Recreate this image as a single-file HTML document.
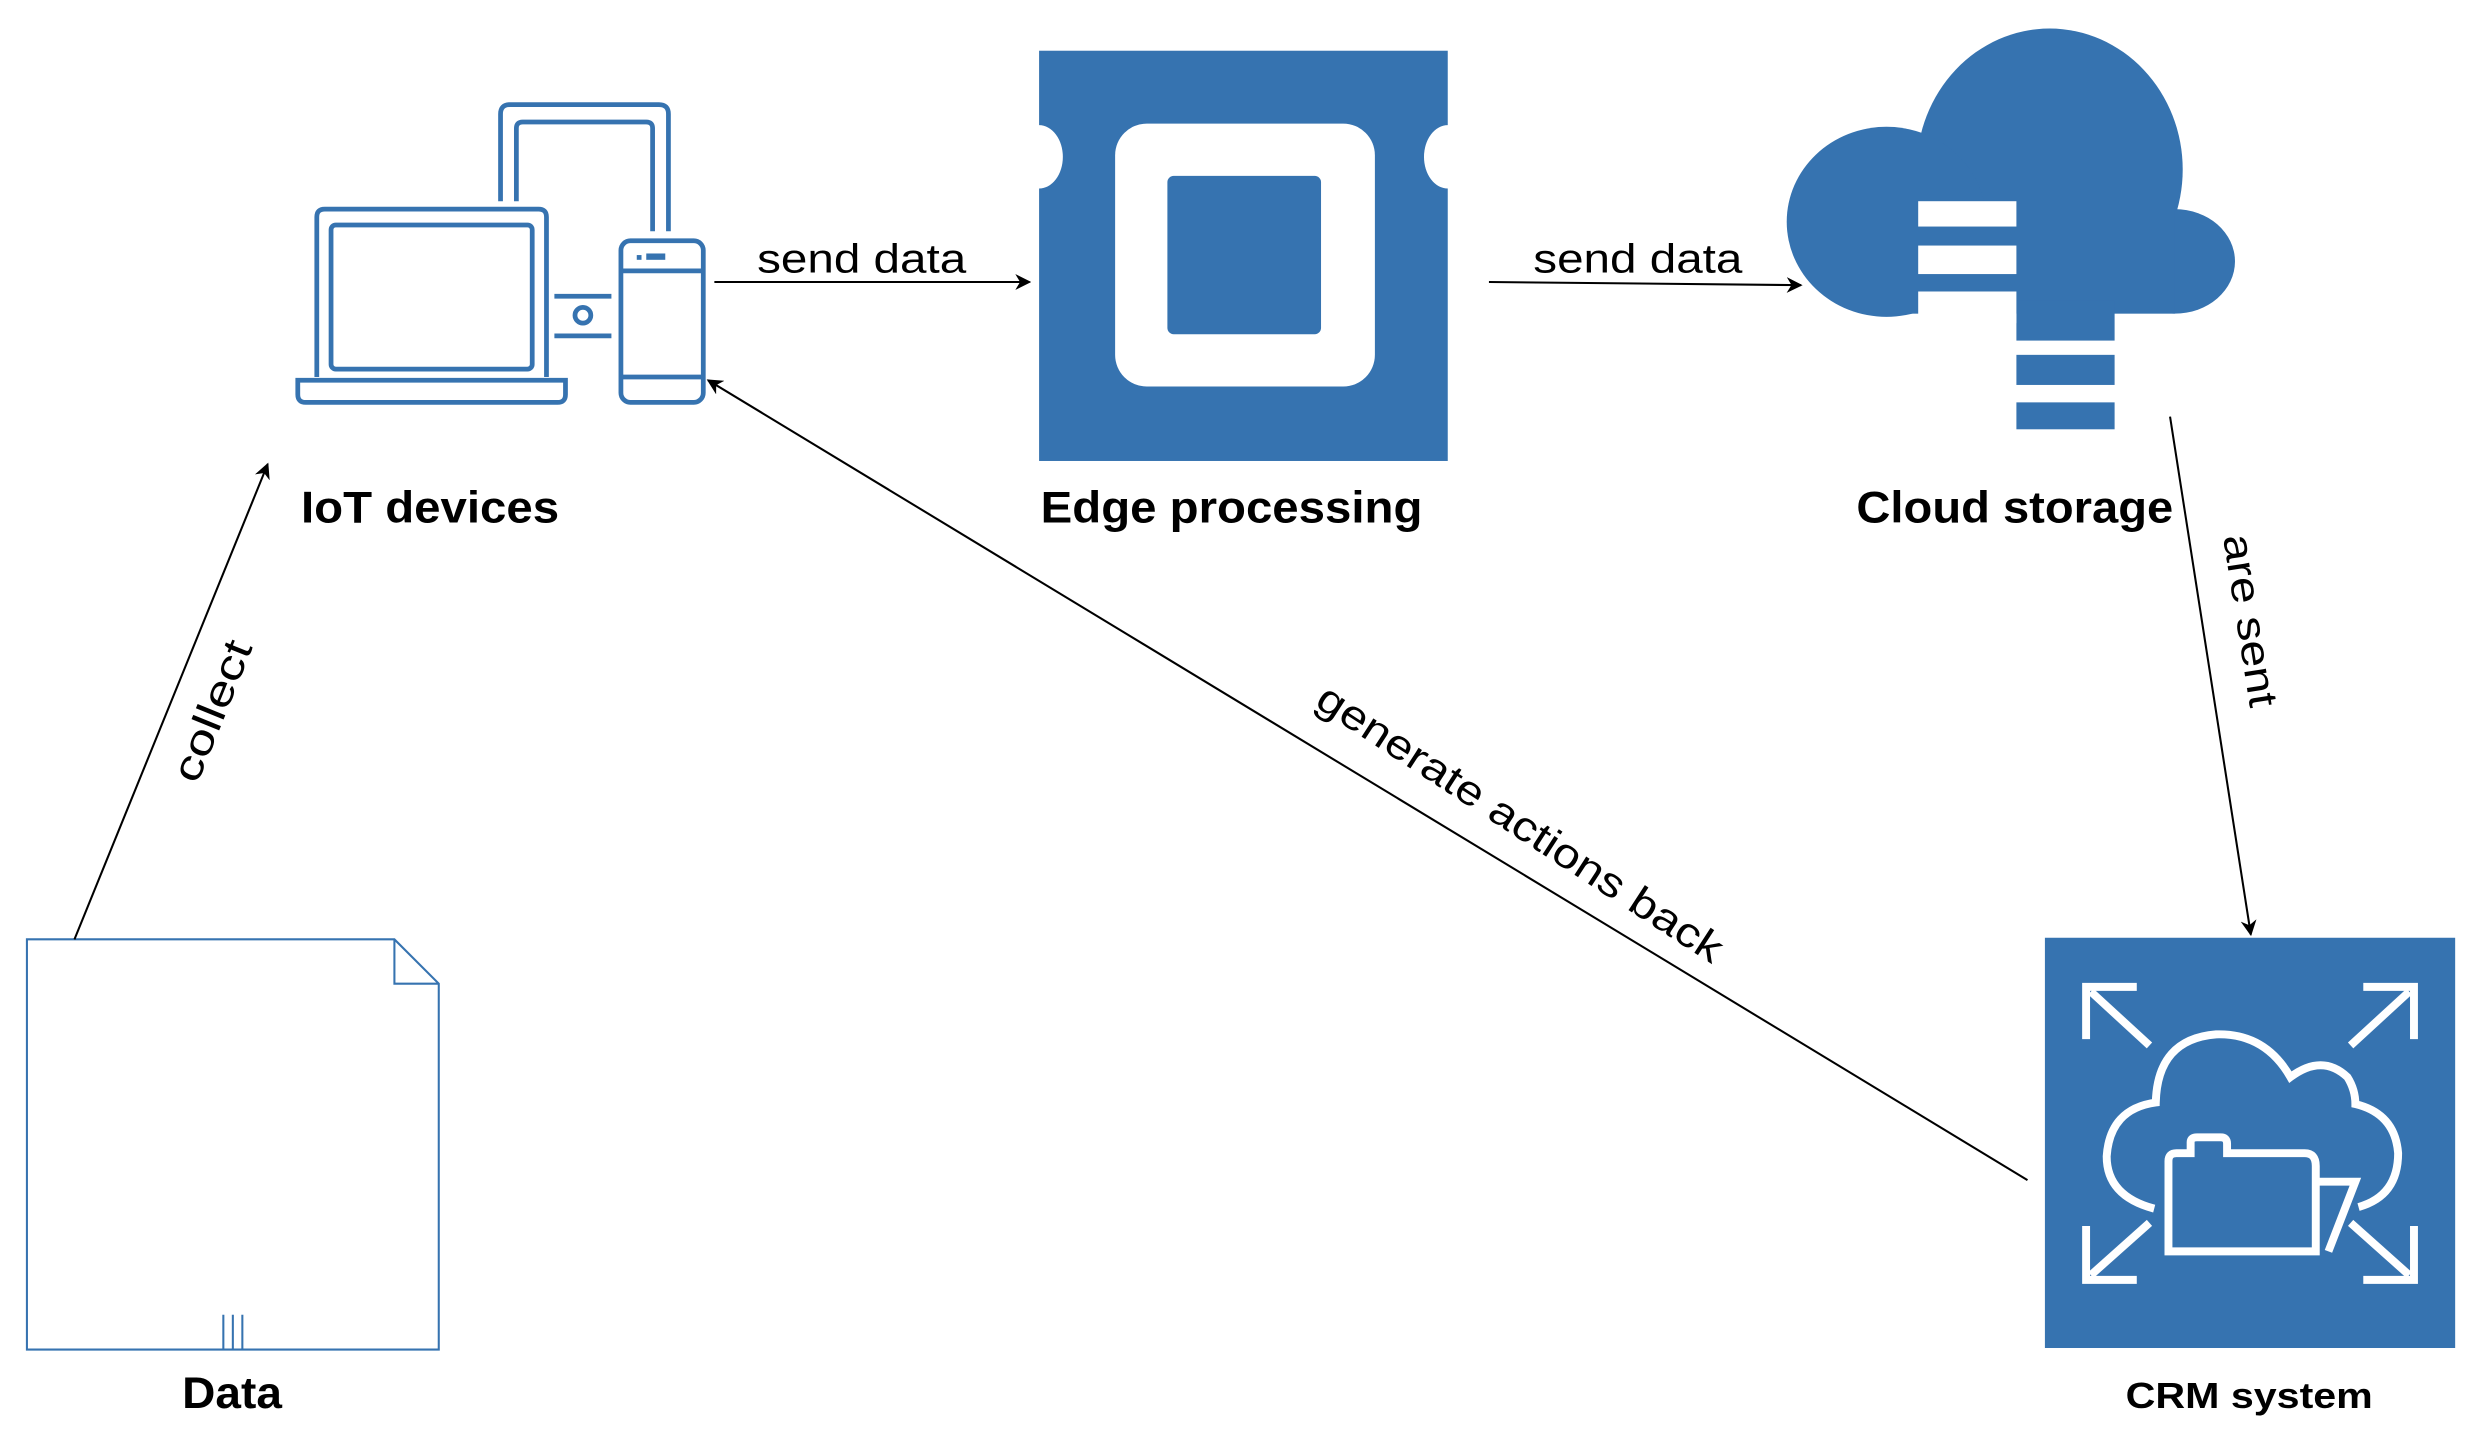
<!DOCTYPE html>
<html><head><meta charset="utf-8"><style>
html,body{margin:0;padding:0;background:#fff;}
svg{display:block;}
text{font-family:"Liberation Sans",Arial,sans-serif;}
</style></head><body>
<svg width="2471" height="1451" viewBox="0 0 1560 916" xmlns="http://www.w3.org/2000/svg">
<defs>
<marker id="ah" viewBox="0 0 10 10" refX="9" refY="5" markerWidth="10" markerHeight="10" markerUnits="userSpaceOnUse" orient="auto">
<path d="M0,0 L10,5 L0,10 L3,5 z" fill="#000"/>
</marker>
</defs>
<rect width="1560" height="916" fill="#fff"/>

<!-- IoT devices -->
<g fill="none" stroke="#3673b0" stroke-width="3">
  <path d="M316,127 V72 Q316,66 322,66 H416 Q422,66 422,72 V146"/>
  <path d="M326,127 V81 Q326,77 330,77 H408 Q412,77 412,81 V146"/>
  <path d="M200,238 V137 Q200,132 205,132 H340 Q345,132 345,137 V238"/>
  <rect x="209" y="142" width="127" height="91" rx="3"/>
  <path d="M188,240 H357 V249 Q357,254 352,254 H193 Q188,254 188,249 Z"/>
  <rect x="392" y="152" width="52" height="102" rx="6"/>
  <line x1="392" y1="171" x2="444" y2="171"/>
  <line x1="392" y1="238" x2="444" y2="238"/>
  <line x1="350" y1="187" x2="386" y2="187"/>
  <line x1="350" y1="212" x2="386" y2="212"/>
  <circle cx="368" cy="199" r="5"/>
</g>
<rect x="408" y="160" width="12" height="4" fill="#3673b0"/>
<rect x="402" y="161" width="3" height="3" fill="#3673b0"/>

<!-- Edge processing -->
<rect x="656" y="32" width="258" height="259" fill="#3673b0"/>
<ellipse cx="656" cy="99" rx="15" ry="20" fill="#fff"/>
<ellipse cx="914" cy="99" rx="15" ry="20" fill="#fff"/>
<rect x="704" y="78" width="164" height="166" rx="20" fill="#fff"/>
<rect x="737" y="111" width="97" height="100" rx="4" fill="#3673b0"/>

<!-- Cloud storage -->
<g fill="#3673b0">
  <ellipse cx="1294" cy="107" rx="84" ry="89"/>
  <ellipse cx="1191" cy="140" rx="63" ry="60"/>
  <ellipse cx="1373" cy="165" rx="38" ry="33"/>
  <rect x="1188" y="130" width="185" height="68"/>
  <rect x="1273" y="190" width="62" height="25"/>
  <rect x="1273" y="224" width="62" height="19"/>
  <rect x="1273" y="254" width="62" height="17"/>
</g>
<rect x="1211" y="184" width="62" height="20" fill="#fff"/>
<rect x="1211" y="127" width="62" height="16" fill="#fff"/>
<rect x="1211" y="155" width="62" height="18" fill="#fff"/>

<!-- CRM system -->
<rect x="1291" y="592" width="259" height="259" fill="#3673b0"/>
<g fill="none" stroke="#fff" stroke-width="5" stroke-linecap="butt">
  <path d="M1317,656 V623 H1349"/><line x1="1320" y1="626" x2="1357" y2="660"/>
  <path d="M1524,656 V623 H1492"/><line x1="1521" y1="626" x2="1484" y2="660"/>
  <path d="M1317,774 V808 H1349"/><line x1="1320" y1="805" x2="1357" y2="772"/>
  <path d="M1524,774 V808 H1492"/><line x1="1521" y1="805" x2="1484" y2="772"/>
  <path d="M1360,763 Q1330,755 1330,730 Q1332,700 1361,696 Q1362,656 1399,653 Q1430,652 1446,680 Q1466,665 1482,680 Q1487,688 1487,697 Q1512,703 1514,728 Q1514,755 1489,762"/>
  <path d="M1369,790 V733 Q1369,728 1374,728 H1383 V721 Q1383,718 1387,718 H1402 Q1406,718 1406,722 V728 H1455 Q1462,728 1462,736 V790 Z"/>
  <path d="M1462,746 H1487 L1470,790"/>
</g>

<!-- Data document -->
<path d="M17,593 H249 L277,621 V852 H17 Z" fill="#fff" stroke="#3673b0" stroke-width="1.3"/>
<path d="M249,593 V621 H277" fill="none" stroke="#3673b0" stroke-width="1.3"/>
<g stroke="#3673b0" stroke-width="1.3"><line x1="141" y1="830" x2="141" y2="852"/><line x1="147" y1="830" x2="147" y2="852"/><line x1="153" y1="830" x2="153" y2="852"/></g>

<!-- Connectors -->
<g stroke="#000" stroke-width="1.3" fill="none" marker-end="url(#ah)">
  <line x1="451" y1="178" x2="650" y2="178"/>
  <line x1="940" y1="178" x2="1137" y2="180"/>
  <line x1="1370" y1="263" x2="1421" y2="590"/>
  <line x1="1280" y1="745" x2="447" y2="240"/>
  <line x1="47" y1="593" x2="169" y2="293"/>
</g>

<!-- Edge labels -->
<g font-size="26" fill="#000">
  <text x="478" y="172" textLength="132" lengthAdjust="spacingAndGlyphs">send data</text>
  <text x="968" y="172" textLength="132" lengthAdjust="spacingAndGlyphs">send data</text>
  <text transform="translate(1412,393) rotate(81)" x="-55" textLength="110" lengthAdjust="spacingAndGlyphs">are sent</text>
  <text transform="translate(955,527) rotate(33)" x="-150" textLength="300" lengthAdjust="spacingAndGlyphs">generate actions back</text>
  <text transform="translate(142,452) rotate(-68)" x="-47" textLength="94" lengthAdjust="spacingAndGlyphs">collect</text>
</g>

<!-- Node labels -->
<g font-weight="bold" fill="#000">
  <text x="190" y="330" font-size="28" textLength="163" lengthAdjust="spacingAndGlyphs">IoT devices</text>
  <text x="657" y="330" font-size="28" textLength="241" lengthAdjust="spacingAndGlyphs">Edge processing</text>
  <text x="1172" y="330" font-size="28" textLength="200" lengthAdjust="spacingAndGlyphs">Cloud storage</text>
  <text x="115" y="889" font-size="28" textLength="63" lengthAdjust="spacingAndGlyphs">Data</text>
  <text x="1342" y="889" font-size="23" textLength="156" lengthAdjust="spacingAndGlyphs">CRM system</text>
</g>
</svg>
</body></html>
